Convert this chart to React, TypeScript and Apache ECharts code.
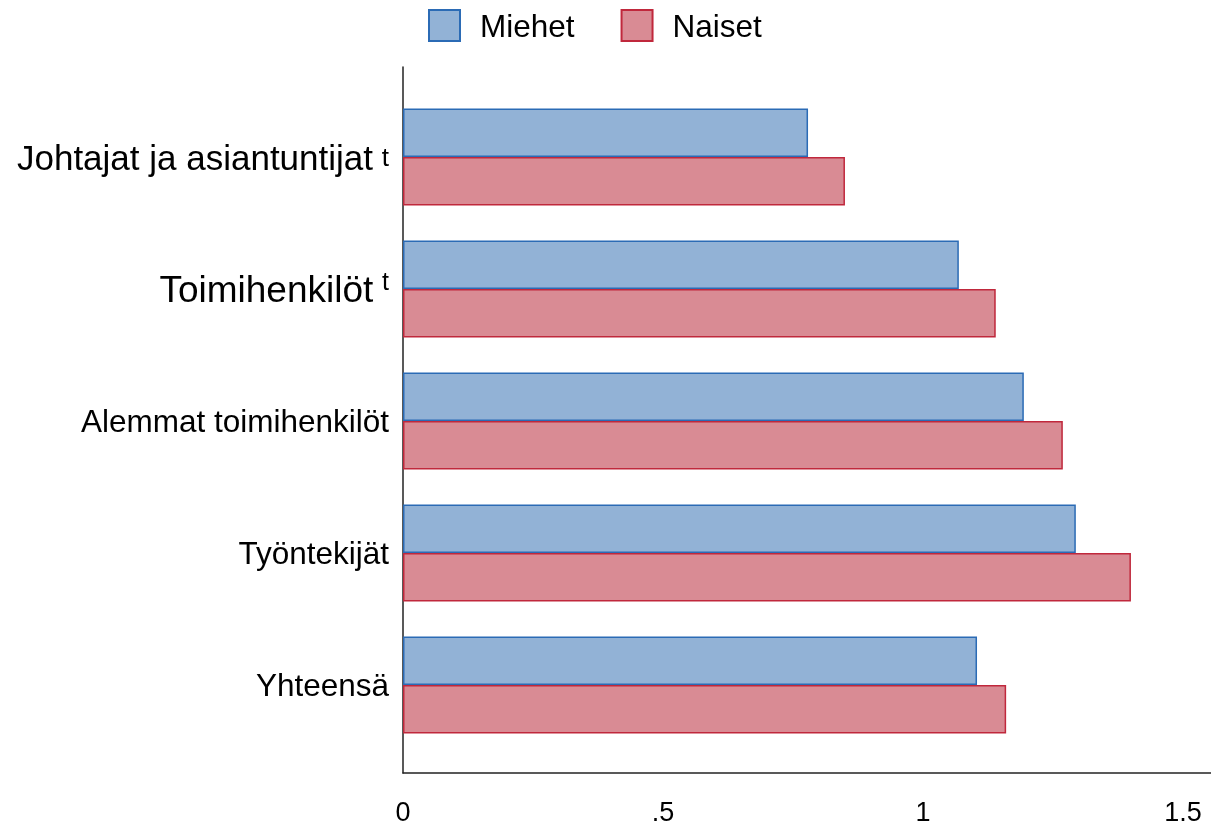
import React, { useEffect, useRef } from "react";
import * as echarts from "echarts";

const categories = [
  "Johtajat ja asiantuntijat",
  "Toimihenkilöt",
  "Alemmat toimihenkilöt",
  "Työntekijät",
  "Yhteensä",
];
const miehet = [0.779, 1.069, 1.194, 1.294, 1.104];
const naiset = [0.85, 1.14, 1.269, 1.4, 1.16];
const xTicks = [0, 0.5, 1, 1.5];
const xTickLabels = ["0", ".5", "1", "1.5"];

const FONT = "'Liberation Sans', Arial, Helvetica, sans-serif";
const X_MAX = 1.554;

export default function App() {
  const ref = useRef<HTMLDivElement>(null);
  useEffect(() => {
    if (!ref.current) return;
    const chart = echarts.init(ref.current, null, { renderer: "svg" });
    chart.setOption({
      animation: false,
      textStyle: { fontFamily: FONT, color: "#000" },
      legend: {
        data: ["Miehet", "Naiset"],
        left: 423,
        top: 4,
        itemWidth: 31,
        itemHeight: 31,
        itemGap: 46,
        icon: "rect",
        textStyle: {
          fontFamily: FONT,
          fontSize: 31.5,
          color: "#000",
          padding: [0, 0, 0, 15],
        },
      },
      grid: [
        { left: 403, right: 0, top: 91, bottom: 74 },
        { left: 403, right: 0, top: 67, bottom: 52 },
      ],
      xAxis: [
        {
          type: "value",
          gridIndex: 0,
          min: 0,
          max: X_MAX,
          show: false,
        },
        {
          type: "value",
          gridIndex: 1,
          min: 0,
          max: X_MAX,
          interval: 0.5,
          axisLine: { show: true, lineStyle: { color: "#222", width: 1.5 } },
          axisTick: { show: false },
          splitLine: { show: false },
          axisLabel: {
            showMaxLabel: false,
            margin: 25,
            fontSize: 27,
            fontFamily: FONT,
            color: "#000",
            formatter: (v: number) => {
              const i = xTicks.findIndex((t) => Math.abs(t - v) < 1e-6);
              return i >= 0 ? xTickLabels[i] : "";
            },
          },
        },
      ],
      yAxis: [
        {
          type: "category",
          gridIndex: 0,
          data: categories,
          inverse: true,
          axisLine: { show: false },
          axisTick: { show: false },
          splitLine: { show: false },
          axisLabel: {
            margin: 14,
            fontSize: 31.5,
            fontFamily: FONT,
            color: "#000",
            formatter: (v: string) => {
              if (v === categories[0]) return "{big|" + v + "} {sm|t}";
              if (v === categories[1]) return "{big2|" + v + "} {sup|t}";
              return v;
            },
            rich: {
              big: { fontSize: 35, fontFamily: FONT, color: "#000" },
              big2: { fontSize: 37, fontFamily: FONT, color: "#000" },
              sm: { fontSize: 26, fontFamily: FONT, color: "#000" },
              sup: {
                fontSize: 25,
                fontFamily: FONT,
                color: "#000",
                verticalAlign: "top",
                padding: [0, 0, 16, 0],
              },
            },
          },
        },
        {
          type: "value",
          gridIndex: 1,
          min: 0,
          max: 1,
          axisLine: { show: true, lineStyle: { color: "#222", width: 1.5 } },
          axisTick: { show: false },
          axisLabel: { show: false },
          splitLine: { show: false },
        },
      ],
      series: [
        {
          name: "Miehet",
          type: "bar",
          xAxisIndex: 0,
          yAxisIndex: 0,
          data: miehet,
          barGap: "0%",
          barCategoryGap: "26.5%",
          itemStyle: { color: "#92B2D6", borderColor: "#2B6BB5", borderWidth: 1.5 },
        },
        {
          name: "Naiset",
          type: "bar",
          xAxisIndex: 0,
          yAxisIndex: 0,
          data: naiset,
          barGap: "0%",
          barCategoryGap: "26.5%",
          itemStyle: { color: "#D98B94", borderColor: "#C0283C", borderWidth: 1.5 },
        },
      ],
    });
    return () => chart.dispose();
  }, []);
  return (
    <div
      ref={ref}
      style={{ position: "fixed", left: 0, top: 0, width: 1211, height: 825 }}
    />
  );
}
